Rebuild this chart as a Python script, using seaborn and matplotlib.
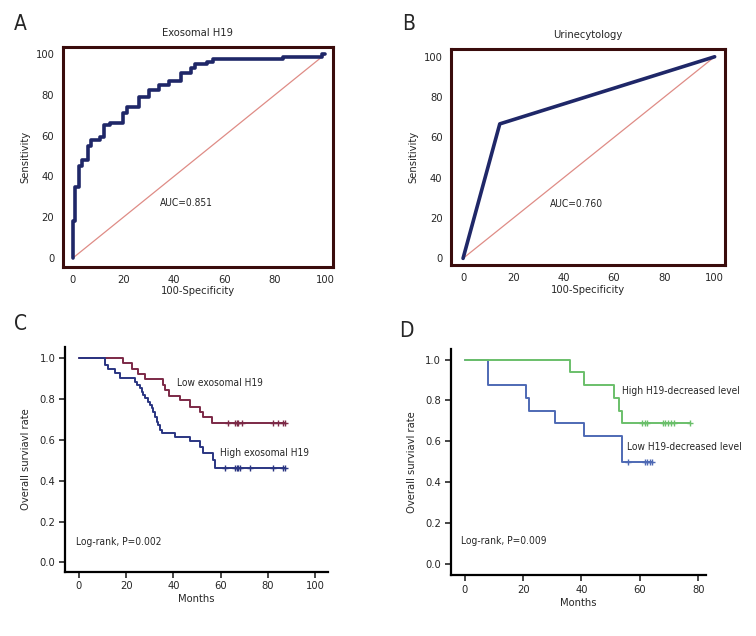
import pandas as pd
import matplotlib.pyplot as plt
import seaborn as sns
from matplotlib.ticker import MultipleLocator

sns.set_style("white")
plt.rcParams['font.family'] = ['DejaVu Sans']
plt.rcParams['font.stretch'] = 'condensed'

# ROC A: exosomal H19 (points after each vertical step)
roc_a_fpr = [0, 0, 0.8, 2.4, 3.7, 6.1, 7.4, 10.7, 12.3, 14.7, 19.7, 21.3, 26.3, 30.0,
             34.0, 38.2, 42.8, 46.7, 48.5, 53.0, 55.6, 83.3, 98.7, 100]
roc_a_tpr = [0, 18, 35, 45, 48, 55, 58, 59.5, 65, 66, 71, 74, 79, 82.5,
             85, 87, 90.5, 93, 95, 96.3, 97.5, 98.7, 100, 100]

# ROC B: urine cytology
roc_b_fpr = [0, 14.6, 100]
roc_b_tpr = [0, 66.7, 100]

# KM C: exosomal H19 groups
c_low_t = [0, 18.8, 22.3, 25.1, 28.0, 35.7, 36.5, 38.0, 42.8, 47.0, 51.3, 52.5, 56.2, 87.2]
c_low_s = [1.0, 0.975, 0.95, 0.922, 0.897, 0.87, 0.845, 0.817, 0.794, 0.763, 0.738, 0.711, 0.684, 0.684]
c_low_cens_t = [63.3, 66.1, 66.8, 67.5, 68.9, 82.3, 84.4, 86.4, 87.2]

c_high_t = [0, 11.0, 12.4, 15.3, 17.4, 23.7, 24.5, 25.9, 26.6, 27.3, 28.0, 29.4, 30.1, 30.8,
            31.5, 32.2, 32.9, 33.6, 34.3, 35.0, 35.7, 40.7, 47.0, 51.3, 52.7, 56.9, 57.6, 87.2]
c_high_s = [1.0, 0.967, 0.946, 0.927, 0.902, 0.886, 0.869, 0.853, 0.837, 0.820, 0.804, 0.788,
            0.771, 0.755, 0.739, 0.714, 0.690, 0.673, 0.649, 0.632, 0.632, 0.615, 0.595,
            0.567, 0.534, 0.50, 0.464, 0.464]
c_high_cens_t = [61.9, 66.1, 66.8, 67.5, 68.2, 72.5, 82.3, 86.4, 87.2]

# KM D: H19-decreased level groups
d_high_t = [0, 36, 41, 51, 53, 54, 77.1]
d_high_s = [1.0, 0.9375, 0.875, 0.8125, 0.75, 0.6875, 0.6875]
d_high_cens_t = [60.9, 61.7, 62.6, 68.0, 68.8, 69.7, 70.6, 71.7, 77.1]

d_low_t = [0, 8, 21, 22, 31, 41, 54, 64.2]
d_low_s = [1.0, 0.875, 0.8125, 0.75, 0.6875, 0.625, 0.5, 0.5]
d_low_cens_t = [56.0, 61.7, 62.6, 63.4, 64.2]

FS = 8
FS_NOTE = 7.3
NAVY = '#1f2768'
FRAME = '#3a0c0c'
DIAG = '#df8c86'

fig = plt.figure(figsize=(7.56, 6.36), dpi=100)
axA = fig.add_axes([0.0829, 0.5807, 0.3576, 0.3459])
axB = fig.add_axes([0.5962, 0.5833, 0.3624, 0.3392])
axC = fig.add_axes([0.0860, 0.1011, 0.3479, 0.3528])
axD = fig.add_axes([0.5962, 0.0959, 0.3381, 0.3549])


def roc_panel(ax, fpr, tpr, title, auc, xlim, ylim, steps):
    df = pd.DataFrame({'fpr': fpr, 'tpr': tpr})
    sns.lineplot(data=df, x='fpr', y='tpr', ax=ax, estimator=None, sort=False,
                 color=NAVY, lw=2.6, drawstyle='steps-post' if steps else 'default')
    ax.plot([0, 100], [0, 100], color=DIAG, lw=0.9, zorder=1)
    ax.set_xlim(*xlim)
    ax.set_ylim(*ylim)
    ax.xaxis.set_major_locator(MultipleLocator(20))
    ax.xaxis.set_minor_locator(MultipleLocator(4))
    ax.yaxis.set_major_locator(MultipleLocator(20))
    ax.yaxis.set_minor_locator(MultipleLocator(5))
    for s in ax.spines.values():
        s.set_color(FRAME)
        s.set_linewidth(2.2)
    ax.tick_params(which='both', direction='in', color=FRAME, top=False, right=False,
                   labelsize=FS)
    ax.tick_params(which='major', length=5, width=1.8, pad=6)
    ax.tick_params(which='minor', length=3, width=1.5)
    ax.set_xlabel('100-Specificity', fontsize=FS, labelpad=1)
    ax.set_ylabel('Sensitivity', fontsize=FS, labelpad=4)
    ax.set_title(title, fontsize=FS, pad=8)
    ax.text(34.5, 27, auc, fontsize=FS_NOTE, va='center')
    ax.grid(False)


roc_panel(axA, roc_a_fpr, roc_a_tpr, 'Exosomal H19', 'AUC=0.851', (-4, 103), (-4.2, 103.6), True)
roc_panel(axB, roc_b_fpr, roc_b_tpr, 'Urinecytology', 'AUC=0.760', (-4.9, 104), (-3.3, 103.7), False)


def km_line(ax, t, s, cens, color):
    df = pd.DataFrame({'t': t, 's': s})
    sns.lineplot(data=df, x='t', y='s', ax=ax, estimator=None, sort=False,
                 color=color, lw=1.4, drawstyle='steps-post')
    lvl = s[-1]
    ax.scatter(cens, [lvl] * len(cens), marker='+', s=18, color=color, lw=1.0, zorder=3)


def km_axes(ax, xlim, ylim, xmax):
    ax.set_xlim(*xlim)
    ax.set_ylim(*ylim)
    ax.set_xticks(range(0, xmax + 1, 20))
    ax.set_yticks([0.0, 0.2, 0.4, 0.6, 0.8, 1.0])
    ax.set_yticklabels(['0.0', '0.2', '0.4', '0.6', '0.8', '1.0'])
    sns.despine(ax=ax)
    for s in ['left', 'bottom']:
        ax.spines[s].set_color('black')
        ax.spines[s].set_linewidth(1.6)
    ax.tick_params(which='major', direction='out', length=4, width=1.2,
                   bottom=True, left=True, labelsize=FS, pad=3)
    ax.set_xlabel('Months', fontsize=FS, labelpad=2)
    ax.set_ylabel('Overall surviavl rate', fontsize=FS, labelpad=6)
    ax.grid(False)


LOW_C = '#7c2946'
HIGH_C = '#2a3582'
km_line(axC, c_low_t, c_low_s, c_low_cens_t, LOW_C)
km_line(axC, c_high_t, c_high_s, c_high_cens_t, HIGH_C)
km_axes(axC, (-5.9, 105.5), (-0.046, 1.054), 100)
axC.text(41.4, 0.878, 'Low exosomal H19', fontsize=FS_NOTE, va='center')
axC.text(59.7, 0.534, 'High exosomal H19', fontsize=FS_NOTE, va='center')
axC.text(-1.3, 0.098, 'Log-rank, P=0.002', fontsize=FS_NOTE, va='center')

GREEN = '#6abf6a'
BLUE = '#4e69b4'
km_line(axD, d_low_t, d_low_s, d_low_cens_t, BLUE)
km_line(axD, d_high_t, d_high_s, d_high_cens_t, GREEN)
km_axes(axD, (-4.8, 82.8), (-0.055, 1.05), 80)
axD.text(54.0, 0.845, 'High H19-decreased level', fontsize=FS_NOTE, va='center')
axD.text(55.7, 0.572, 'Low H19-decreased level', fontsize=FS_NOTE, va='center')
axD.text(-1.4, 0.113, 'Log-rank, P=0.009', fontsize=FS_NOTE, va='center')

for lab, x, y in [('A', 0.018, 0.963), ('B', 0.532, 0.963), ('C', 0.018, 0.49), ('D', 0.528, 0.48)]:
    fig.text(x, y, lab, fontsize=15, va='center', ha='left')

fig.savefig('out.png', dpi=100)
